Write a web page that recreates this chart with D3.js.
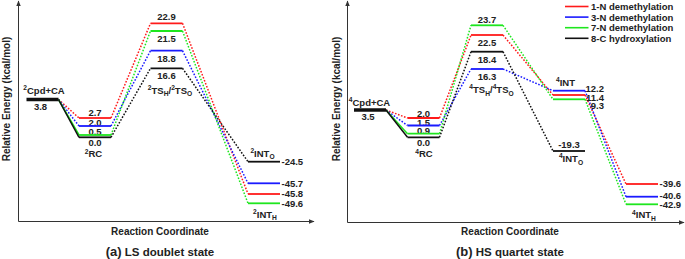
<!DOCTYPE html>
<html>
<head>
<meta charset="utf-8">
<script src="https://cdn.jsdelivr.net/npm/d3@7"></script>
<style>
  body { margin: 0; background: #fff; }
  text { font-family: "Liberation Sans", Arial, sans-serif; fill: #222; }
</style>
</head>
<body>
<svg id="chart" width="685" height="259"></svg>
<script>
// ---- data ----
const seriesNames = ["1-N demethylation", "3-N demethylation", "7-N demethylation", "8-C hydroxylation"];
const seriesColors = ["#ff1a1a", "#1a1aff", "#1ee61e", "#111111"];

// (a) LS doublet state: Cpd+CA, RC, TS, INT
const lsStages = ["Cpd+CA", "RC", "TS", "INT"];
const ls1N = [3.8, 2.7, 22.9, -45.8];
const ls3N = [3.8, 2.0, 18.8, -45.7];
const ls7N = [3.8, 0.5, 21.5, -49.6];
const ls8C = [3.8, 0.0, 16.6, -24.5];

// (b) HS quartet state: Cpd+CA, RC, TS, INT, INT_H
const hsStages = ["Cpd+CA", "RC", "TS", "INT", "INT_H"];
const hs1N = [3.5, 2.0, 22.5, 11.4, -39.6];
const hs3N = [3.5, 1.5, 16.3, 12.2, -40.6];
const hs7N = [3.5, 0.9, 23.7, 9.3, -42.9];
const hs8C = [3.5, 0.0, 18.4, -19.3];

// first leg (Cpd -> RC) drawn solid for these series
const solidFirstLeg = [false, false, true, true];

// ---- schematic scales (energy diagram is not to scale) ----
const lsX = d3.scaleLinear().domain([0, 1, 2, 3]).range([42.5, 95, 166.5, 264]);
const lsY = d3.scaleLinear()
  .domain([-49.6, -45.8, -45.7, -24.5, 0, 0.5, 2.0, 2.7, 3.8, 16.6, 18.8, 21.5, 22.9])
  .range([203.3, 194, 183.3, 161.7, 137.3, 135, 126, 118, 99.5, 68.3, 50.7, 31, 23.3]);

const hsX = d3.scaleLinear().domain([0, 1, 2, 3, 4]).range([370, 423.5, 487, 569, 642]);
const hsY = d3.scaleLinear()
  .domain([-42.9, -40.6, -39.6, -19.3, 0, 0.9, 1.5, 2.0, 3.5, 9.3, 11.4, 12.2, 16.3, 18.4, 22.5, 23.7])
  .range([204.3, 196.7, 184, 151, 137.3, 133.7, 125.5, 118, 110, 99.3, 95, 90.7, 69, 51.7, 35, 25.3]);

const svg = d3.select("#chart");
const defs = svg.append("defs");
defs.append("marker").attr("id", "arrow")
  .attr("viewBox", "0 0 10 10").attr("refX", 9).attr("refY", 5)
  .attr("markerWidth", 6).attr("markerHeight", 6)
  .attr("markerUnits", "userSpaceOnUse").attr("orient", "auto")
  .append("path").attr("d", "M0,1L10,5L0,9Z").attr("fill", "#333");

// text with ^x superscript and _x subscript
function richText(g, str, x, y, opt) {
  opt = Object.assign({ size: 9.5, anchor: "middle", weight: "bold" }, opt);
  const t = g.append("text").attr("x", x).attr("y", y)
    .attr("text-anchor", opt.anchor).attr("font-size", opt.size).attr("font-weight", opt.weight);
  let shift = 0;
  for (let i = 0; i < str.length; i++) {
    const c = str[i];
    if (c === "^" || c === "_") {
      const target = c === "^" ? -3.6 : 2.6;
      t.append("tspan").attr("dy", target - shift).attr("font-size", opt.size * 0.7).text(str[i + 1]);
      shift = target;
      i++;
    } else {
      let j = i;
      while (j < str.length && str[j] !== "^" && str[j] !== "_") j++;
      t.append("tspan").attr("dy", -shift).text(str.slice(i, j));
      shift = 0;
      i = j - 1;
    }
  }
  return t;
}

function drawPanel(cfg) {
  const g = svg.append("g");
  const hw = 16;
  const { x, y } = cfg;

  // axes
  g.append("line").attr("x1", cfg.axisX).attr("y1", cfg.axisY).attr("x2", cfg.axisX).attr("y2", 1)
    .attr("stroke", "#333").attr("stroke-width", 1).attr("marker-end", "url(#arrow)");
  g.append("line").attr("x1", cfg.axisX).attr("y1", cfg.axisY).attr("x2", cfg.axisEnd).attr("y2", cfg.axisY)
    .attr("stroke", "#333").attr("stroke-width", 1).attr("marker-end", "url(#arrow)");

  g.append("text").attr("transform", `translate(${cfg.yLabelX},99) rotate(-90)`)
    .attr("text-anchor", "middle").attr("dominant-baseline", "central")
    .attr("font-size", 10).attr("font-weight", "bold").attr("fill", "#333")
    .text("Relative Energy (kcal/mol)");
  g.append("text").attr("x", cfg.xLabelX).attr("y", 235)
    .attr("text-anchor", "middle").attr("font-size", 10).attr("font-weight", "bold")
    .text("Reaction Coordinate");

  const title = g.append("text").attr("x", cfg.xLabelX).attr("y", 256)
    .attr("text-anchor", "middle").attr("font-weight", "bold");
  title.append("tspan").attr("font-size", 13).text(cfg.tag);
  title.append("tspan").attr("font-size", 11.5).text(" " + cfg.title);

  // connectors
  cfg.series.forEach((vals, s) => {
    for (let k = 1; k < vals.length; k++) {
      g.append("line")
        .attr("x1", x(k - 1) + hw).attr("y1", y(vals[k - 1]))
        .attr("x2", x(k) - hw).attr("y2", y(vals[k]))
        .attr("stroke", seriesColors[s]).attr("stroke-width", 1.5)
        .attr("stroke-dasharray", k === 1 && solidFirstLeg[s] ? null : "1.6,1.6");
    }
  });

  // value labels (drawn under the level bars, as in the source figure)
  cfg.series.forEach((vals, s) => {
    vals.forEach((v, k) => {
      if (k === 0) return;
      const [p, off] = cfg.place[s][k - 1];
      let tx = x(k), ty = y(v) + off, anchor = "middle";
      if (p === "right") { tx = x(k) + hw + 1.5; ty += 3.3; anchor = "start"; }
      else if (p === "rightEnd") { tx = x(k) + hw + 19; ty += 3.3; anchor = "end"; }
      g.append("text").attr("x", tx).attr("y", ty).attr("text-anchor", anchor)
        .attr("font-size", 9.5).attr("font-weight", "bold").text(v.toFixed(1));
    });
  });

  // levels
  cfg.series.forEach((vals, s) => {
    vals.forEach((v, k) => {
      if (k === 0) return;
      g.append("line").attr("x1", x(k) - hw).attr("x2", x(k) + hw)
        .attr("y1", y(v)).attr("y2", y(v))
        .attr("stroke", seriesColors[s]).attr("stroke-width", 1.8);
    });
  });
  const v0 = cfg.series[0][0];
  g.append("line").attr("x1", x(0) - hw).attr("x2", x(0) + hw)
    .attr("y1", y(v0)).attr("y2", y(v0)).attr("stroke", "#111").attr("stroke-width", 3.5);
  g.append("text").attr("x", x(0) - 2).attr("y", y(v0) + 10)
    .attr("text-anchor", "middle").attr("font-size", 9.5).attr("font-weight", "bold").text(v0.toFixed(1));

  // stage names
  cfg.names.forEach(n => {
    richText(g, n.text, x(n.stage) + (n.dx || 0), y(n.at) + n.dy);
  });
}

drawPanel({
  x: lsX, y: lsY,
  series: [ls1N, ls3N, ls7N, ls8C],
  place: [
    [["mid", -1.8], ["mid", -3.5], ["right", 0]],
    [["mid", -0.5], ["mid", 11], ["right", 0]],
    [["mid", 0.2], ["mid", 10.5], ["right", 0]],
    [["mid", 9], ["mid", 11], ["right", 0]]
  ],
  names: [
    { text: "^2Cpd+CA", stage: 0, at: ls8C[0], dy: -5.5, dx: 1.5 },
    { text: "^2RC", stage: 1, at: ls8C[1], dy: 20, dx: -1.5 },
    { text: "^2TS_H/^2TS_O", stage: 2, at: ls8C[2], dy: 25.5, dx: 3.5 },
    { text: "^2INT_O", stage: 3, at: ls8C[3], dy: -5, dx: -1.5 },
    { text: "^2INT_H", stage: 3, at: ls7N[3], dy: 14.5, dx: 1 }
  ],
  axisX: 18.5, axisY: 221.5, axisEnd: 314,
  yLabelX: 6, xLabelX: 160, tag: "(a)", title: "LS doublet state"
});

drawPanel({
  x: hsX, y: hsY,
  series: [hs1N, hs3N, hs7N, hs8C],
  place: [
    [["mid", -1.2], ["mid", 10.5], ["rightEnd", 2.7], ["right", 0]],
    [["mid", 0.3], ["mid", 10.5], ["rightEnd", -2.4], ["right", -1.4]],
    [["mid", 0.5], ["mid", -2.8], ["rightEnd", 6.4], ["right", 0]],
    [["mid", 9], ["mid", 11], ["mid", -2.8]]
  ],
  names: [
    { text: "^4Cpd+CA", stage: 0, at: hs8C[0], dy: -4.5, dx: -0.5 },
    { text: "^4RC", stage: 1, at: hs8C[1], dy: 20, dx: 0.5 },
    { text: "^4TS_H/^4TS_O", stage: 2, at: hs3N[2], dy: 24, dx: 4.5 },
    { text: "^4INT", stage: 3, at: hs3N[3], dy: -5, dx: -3.5 },
    { text: "^4INT_O", stage: 3, at: hs8C[3], dy: 11, dx: 2 },
    { text: "^4INT_H", stage: 4, at: hs7N[4], dy: 14, dx: 2 }
  ],
  axisX: 347.5, axisY: 222.5, axisEnd: 684,
  yLabelX: 336, xLabelX: 510, tag: "(b)", title: "HS quartet state"
});

// legend
const legend = svg.append("g").attr("transform", "translate(565,6.5)");
seriesNames.forEach((name, i) => {
  const row = legend.append("g").attr("transform", `translate(0,${i * 10.6})`);
  row.append("line").attr("x1", 0).attr("x2", 23.5).attr("stroke", seriesColors[i]).attr("stroke-width", 1.6);
  row.append("text").attr("x", 26).attr("y", 3.4).attr("font-size", 9.5).attr("font-weight", "bold").text(name);
});
</script>
</body>
</html>
